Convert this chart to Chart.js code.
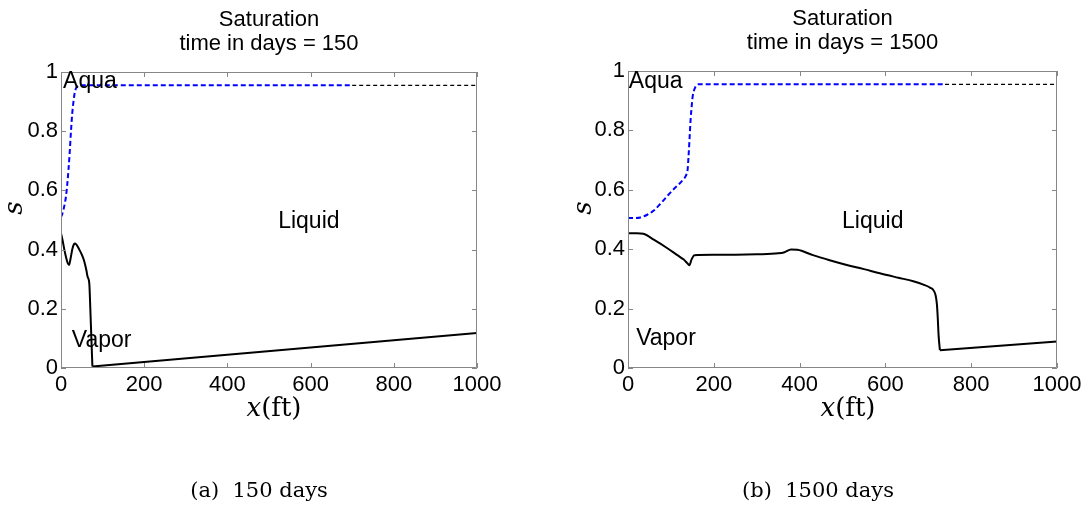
<!DOCTYPE html>
<html>
<head>
<meta charset="utf-8">
<script src="https://cdn.jsdelivr.net/npm/chart.js@4.4.1/dist/chart.umd.min.js"></script>
<style>
  html, body { margin: 0; padding: 0; background: #fff; }
  #wrap { position: relative; width: 1089px; height: 508px; }
  canvas { position: absolute; top: 0; }
</style>
</head>
<body>
<div id="wrap">
  <canvas id="chart150" width="540" height="508" style="left:0"></canvas>
  <canvas id="chart1500" width="549" height="508" style="left:540px"></canvas>
</div>
<script>
var xTicks = [0, 200, 400, 600, 800, 1000];
var yTicks = [0, 0.2, 0.4, 0.6, 0.8, 1];

// 150 days
var aquaX150 = [0, 3, 6, 9, 12, 15, 18, 21, 24, 27, 30, 33, 36, 40, 45, 700];
var aquaS150 = [0.51, 0.52, 0.535, 0.555, 0.58, 0.62, 0.67, 0.73, 0.80, 0.86, 0.90, 0.93, 0.945, 0.952, 0.955, 0.955];
var tailX150 = [700, 1000];
var tailS150 = [0.955, 0.955];
var liqX150 = [0, 4, 8, 12, 16, 19.5, 23, 27, 31, 34, 38, 44, 50, 56, 61, 64, 68, 70.5, 73, 75.5];
var liqS150 = [0.455, 0.43, 0.40, 0.375, 0.355, 0.348, 0.37, 0.40, 0.418, 0.421, 0.415, 0.40, 0.383, 0.36, 0.33, 0.308, 0.286, 0.2, 0.1, 0.005];
var vapX150 = [75.5, 1000];
var vapS150 = [0.005, 0.118];

// 1500 days
var aquaX1500 = [0, 15, 29, 45, 60, 75, 91, 105, 118, 129, 135, 139, 141, 143, 146, 149, 151, 154, 157, 160, 164, 170, 739];
var aquaS1500 = [0.505, 0.505, 0.507, 0.516, 0.53, 0.552, 0.578, 0.6, 0.618, 0.635, 0.648, 0.669, 0.71, 0.76, 0.838, 0.89, 0.917, 0.935, 0.946, 0.952, 0.955, 0.955, 0.955];
var tailX1500 = [739, 1000];
var tailS1500 = [0.955, 0.955];
var liqX1500 = [0, 20, 36, 60, 90, 115, 130, 138, 143, 148, 155, 200, 300, 350, 365, 380, 395, 431, 470, 510, 550, 587, 630, 665, 690, 705, 712, 717, 720, 722, 724, 727];
var liqS1500 = [0.454, 0.454, 0.452, 0.432, 0.405, 0.38, 0.365, 0.353, 0.346, 0.365, 0.38, 0.381, 0.383, 0.386, 0.39, 0.399, 0.398, 0.38, 0.363, 0.347, 0.333, 0.319, 0.304, 0.292, 0.28, 0.27, 0.262, 0.245, 0.215, 0.17, 0.11, 0.06];
var vapX1500 = [727, 1000];
var vapS1500 = [0.06, 0.089];

var SANS = '"Liberation Sans", Arial, sans-serif';
var SERIF = '"DejaVu Serif", serif';

function toPoints(xs, ys) {
    return xs.map(function (x, i) { return { x: x, y: ys[i] }; });
}

// box with inward ticks, region names, axis labels and caption
var figText = {
    id: 'figText',
    afterDraw: function (chart, args, o) {
        var ctx = chart.ctx, a = chart.chartArea;
        var xs = chart.scales.x, ys = chart.scales.y;
        ctx.save();
        ctx.strokeStyle = '#878787';
        ctx.lineWidth = 1;
        ctx.beginPath();
        ctx.rect(Math.round(a.left) + 0.5, Math.round(a.top) + 0.5,
            Math.round(a.right - a.left) - 1, Math.round(a.bottom - a.top) - 1);
        xTicks.forEach(function (v) {
            var px = Math.round(xs.getPixelForValue(v)) + 0.5;
            ctx.moveTo(px, a.bottom); ctx.lineTo(px, a.bottom - 5);
            ctx.moveTo(px, a.top); ctx.lineTo(px, a.top + 5);
        });
        yTicks.forEach(function (v) {
            var py = Math.round(ys.getPixelForValue(v)) + 0.5;
            ctx.moveTo(a.left, py); ctx.lineTo(a.left + 5, py);
            ctx.moveTo(a.right, py); ctx.lineTo(a.right - 5, py);
        });
        ctx.stroke();

        ctx.fillStyle = '#000';
        ctx.font = '23px ' + SANS;
        ctx.textAlign = 'left';
        ctx.textBaseline = 'alphabetic';
        o.notes.forEach(function (n) {
            ctx.fillText(n.text, xs.getPixelForValue(n.x), ys.getPixelForValue(n.y));
        });

        // x(ft)
        var fi = 'italic 26px ' + SERIF, fu = '26px ' + SERIF;
        ctx.font = fi; var w1 = ctx.measureText('x').width;
        ctx.font = fu; var w2 = ctx.measureText('(ft)').width;
        var x0 = o.xLabel[0] - (w1 + w2) / 2;
        ctx.font = fi; ctx.fillText('x', x0, o.xLabel[1]);
        ctx.font = fu; ctx.fillText('(ft)', x0 + w1, o.xLabel[1]);

        // caption
        ctx.font = '21px ' + SERIF;
        ctx.textAlign = 'center';
        ctx.fillText(o.caption, o.capPos[0], o.capPos[1]);

        // s
        ctx.translate(o.sLabel[0], o.sLabel[1]);
        ctx.rotate(-Math.PI / 2);
        ctx.font = fi;
        ctx.textBaseline = 'middle';
        ctx.fillText('s', 0, 0);
        ctx.restore();
    }
};

function makeChart(id, d) {
    return new Chart(document.getElementById(id), {
        type: 'line',
        data: {
            datasets: [
                { data: toPoints(d.aquaX, d.aquaS), borderColor: '#0000ff', borderWidth: 2, borderDash: [5, 3], cubicInterpolationMode: 'monotone' },
                { data: toPoints(d.tailX, d.tailS), borderColor: '#000000', borderWidth: 1.3, borderDash: [4, 3] },
                { data: toPoints(d.liqX, d.liqS), borderColor: '#000000', borderWidth: 2, cubicInterpolationMode: 'monotone' },
                { data: toPoints(d.vapX, d.vapS), borderColor: '#000000', borderWidth: 2 }
            ]
        },
        options: {
            responsive: false,
            animation: false,
            events: [],
            elements: {
                point: { radius: 0 },
                line: { tension: 0, fill: false }
            },
            layout: { padding: { top: d.padTop, right: d.padRight, left: 0, bottom: 0 } },
            plugins: {
                legend: { display: false },
                tooltip: { enabled: false },
                title: {
                    display: true,
                    fullSize: false,
                    text: ['Saturation', 'time in days = ' + d.days],
                    color: '#000',
                    font: { family: SANS, size: 22, weight: 'normal', lineHeight: '24px' },
                    padding: { top: 0, bottom: 16 }
                },
                figText: d.text
            },
            scales: {
                x: {
                    type: 'linear',
                    min: 0,
                    max: 1000,
                    afterBuildTicks: function (s) { s.ticks = xTicks.map(function (v) { return { value: v }; }); },
                    afterFit: function (s) { s.height = 140; },
                    grid: { display: false, drawTicks: false },
                    border: { display: false },
                    ticks: {
                        color: '#000', padding: 4, maxRotation: 0, autoSkip: false,
                        font: { family: SANS, size: 22 },
                        callback: function (v) { return String(v); }
                    }
                },
                y: {
                    min: 0,
                    max: 1,
                    afterBuildTicks: function (s) { s.ticks = yTicks.map(function (v) { return { value: v }; }); },
                    afterFit: function (s) { s.width = d.yWidth; },
                    grid: { display: false, drawTicks: false },
                    border: { display: false },
                    ticks: {
                        color: '#000', padding: 3,
                        font: { family: SANS, size: 22 },
                        callback: function (v) { return String(v); }
                    }
                }
            }
        },
        plugins: [figText]
    });
}

makeChart('chart150', {
    days: 150,
    aquaX: aquaX150, aquaS: aquaS150,
    tailX: tailX150, tailS: tailS150,
    liqX: liqX150, liqS: liqS150,
    vapX: vapX150, vapS: vapS150,
    padTop: 8, padRight: 63, yWidth: 61,
    text: {
        notes: [
            { text: 'Aqua', x: 5, y: 0.946 },
            { text: 'Liquid', x: 522, y: 0.473 },
            { text: 'Vapor', x: 26, y: 0.071 }
        ],
        xLabel: [274, 416],
        sLabel: [15, 208],
        caption: '(a)  150 days',
        capPos: [259, 497]
    }
});

makeChart('chart1500', {
    days: 1500,
    aquaX: aquaX1500, aquaS: aquaS1500,
    tailX: tailX1500, tailS: tailS1500,
    liqX: liqX1500, liqS: liqS1500,
    vapX: vapX1500, vapS: vapS1500,
    padTop: 7, padRight: 32, yWidth: 88,
    text: {
        notes: [
            { text: 'Aqua', x: 2, y: 0.943 },
            { text: 'Liquid', x: 499, y: 0.471 },
            { text: 'Vapor', x: 19, y: 0.077 }
        ],
        xLabel: [308, 416],
        sLabel: [44, 208],
        caption: '(b)  1500 days',
        capPos: [278, 497]
    }
});
</script>
</body>
</html>
